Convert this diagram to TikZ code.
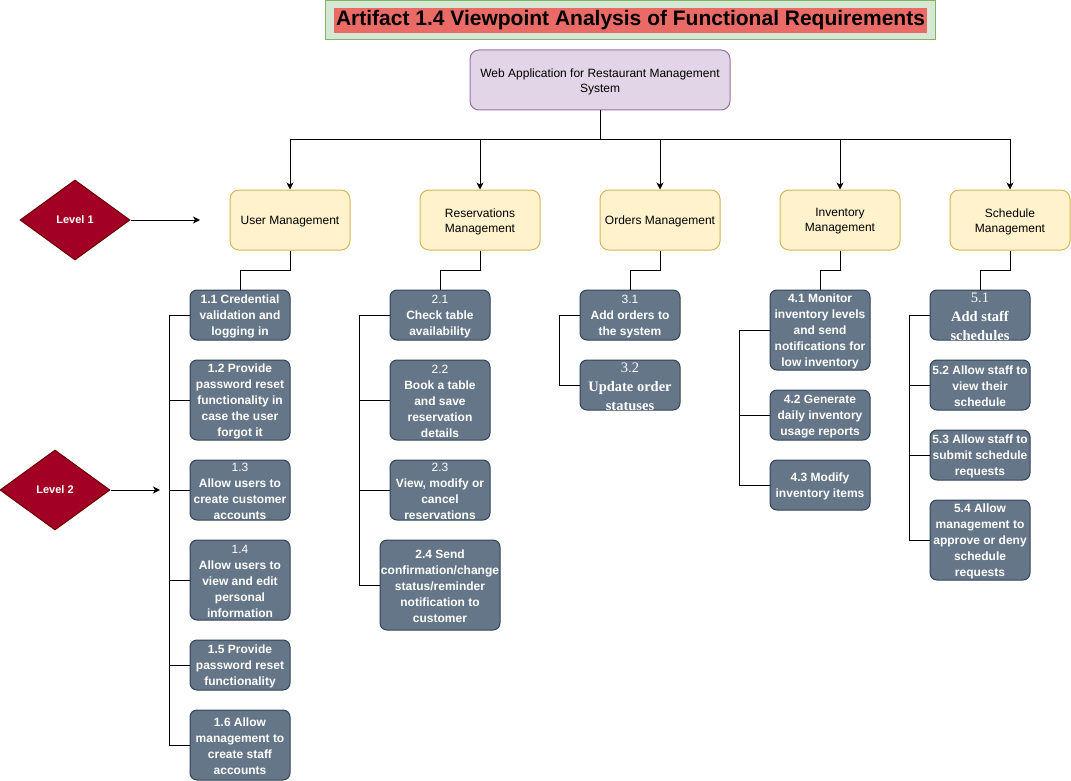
\documentclass[tikz,border=0pt]{standalone}
\usepackage{fontspec}
\setmainfont{Liberation Sans}
\newfontfamily\serifx{Liberation Serif}
\usetikzlibrary{arrows.meta,shapes.geometric}
\definecolor{slatefill}{HTML}{647687}
\definecolor{slateline}{HTML}{314354}
\definecolor{yelfill}{HTML}{FFF2CC}
\definecolor{yelline}{HTML}{D6B656}
\definecolor{purfill}{HTML}{E1D5E7}
\definecolor{purline}{HTML}{9673A6}
\definecolor{grnfill}{HTML}{D5E8D4}
\definecolor{grnline}{HTML}{82B366}
\definecolor{redhl}{HTML}{EA6B66}
\definecolor{dmdfill}{HTML}{A20025}
\definecolor{dmdline}{HTML}{6F0000}
\begin{document}
\begin{tikzpicture}[x=1pt,y=-1pt,
  conn/.style={line width=1pt, black},
  arr/.style={line width=1pt, black, -{Stealth[length=7pt,width=7pt,inset=2pt]}},
  slate/.style={draw=slateline, fill=slatefill, rounded corners=7pt, minimum width=100pt, inner sep=0pt, line width=1pt},
  slatetxt/.style={text=white, font=\fontsize{12}{16}\selectfont\bfseries, align=center, inner sep=0pt, yshift=-1.5pt},
  seriftxt/.style={text=white, font=\serifx\fontsize{14.5}{19}\selectfont, align=center, inner sep=0pt, yshift=-2pt},
  lvlone/.style={draw=yelline, fill=yelfill, rounded corners=9pt, minimum width=120pt, minimum height=60pt, line width=1pt},
  lvltxt/.style={align=center, font=\fontsize{12}{15}\selectfont, inner sep=0pt, yshift=-1.5pt},
  topbox/.style={draw=purline, fill=purfill, rounded corners=9pt, minimum width=260pt, minimum height=60pt, line width=1pt},
  dmd/.style={diamond, draw=dmdline, fill=dmdfill, text=white, minimum width=110pt, minimum height=80pt, inner sep=0pt, font=\bfseries\fontsize{11}{14}\selectfont, line width=1pt}
]
\useasboundingbox (0,0) rectangle (1071,781);

% title
\node[draw=grnline, fill=grnfill, line width=1pt, minimum width=610pt, minimum height=39pt, inner sep=0pt] (titlebox) at (630,20.5) {};
\node[fill=redhl, inner xsep=2pt, inner ysep=0pt, minimum height=25pt, font=\bfseries\fontsize{21}{24}\selectfont] (title) at (630.5,20.5) {Artifact 1.4 Viewpoint Analysis of Functional Requirements};

% top node
\node[topbox] (top) at (600,80) {};
\node[lvltxt] (ttop) at (top) {Web Application for Restaurant Management\\System};

% level 1 nodes
\node[lvlone] (um) at (290,220) {};
\node[lvltxt] (tum) at (um) {User Management};
\node[lvlone] (rm) at (480,220) {};
\node[lvltxt] (trm) at (rm) {Reservations\\Management};
\node[lvlone] (om) at (660,220) {};
\node[lvltxt] (tom) at (om) {Orders Management};
\node[lvlone] (im) at (840,220) {};
\node[lvltxt] (tim) at (im) {Inventory\\Management};
\node[lvlone] (sm) at (1010,220) {};
\node[lvltxt] (tsm) at (sm) {Schedule\\Management};

\coordinate (bus) at (600,140);
\draw[conn] (top.south) -- (bus);
\foreach \n in {um,rm,om,im,sm}{
  \draw[arr] (bus) -| (\n.north);
}

% level diamonds
\node[dmd] (lv1) at (75,220) {Level 1};
\node[dmd] (lv2) at (55,490) {Level 2};
\coordinate (lv1end) at (200,220);
\coordinate (lv2end) at (160,490);
\draw[arr] (lv1.east) -- (lv1end);
\draw[arr] (lv2.east) -- (lv2end);

% column 1
\node[slate, minimum height=50pt] (n11) at (240,315) {};
\node[slatetxt] (t11) at (n11) {1.1 Credential\\validation and\\logging in};
\node[slate, minimum height=80pt] (n12) at (240,400) {};
\node[slatetxt] (t12) at (n12) {1.2 Provide\\password reset\\functionality in\\case the user\\forgot it};
\node[slate, minimum height=60pt] (n13) at (240,490) {};
\node[slatetxt] (t13) at (n13) {{\mdseries 1.3}\\Allow users to\\create customer\\accounts};
\node[slate, minimum height=80pt] (n14) at (240,580) {};
\node[slatetxt] (t14) at (n14) {{\mdseries 1.4}\\Allow users to\\view and edit\\personal\\information};
\node[slate, minimum height=50pt] (n15) at (240,665) {};
\node[slatetxt] (t15) at (n15) {1.5 Provide\\password reset\\functionality};
\node[slate, minimum height=70pt] (n16) at (240,745) {};
\node[slatetxt] (t16) at (n16) {1.6 Allow\\management to\\create staff\\accounts};

\draw[conn] (um.south) -- ++(0,20) -| (n11.north);
\foreach \n in {n12,n13,n14,n15,n16}{
  \draw[conn] (n11.west) -- ++(-20,0) |- (\n.west);
}

% column 2
\node[slate, minimum height=50pt] (n21) at (440,315) {};
\node[slatetxt] (t21) at (n21) {{\mdseries 2.1}\\Check table\\availability};
\node[slate, minimum height=80pt] (n22) at (440,400) {};
\node[slatetxt] (t22) at (n22) {{\mdseries 2.2}\\Book a table\\and save\\reservation\\details};
\node[slate, minimum height=60pt] (n23) at (440,490) {};
\node[slatetxt] (t23) at (n23) {{\mdseries 2.3}\\View, modify or\\cancel\\reservations};
\node[slate, minimum width=120pt, minimum height=90pt] (n24) at (440,585) {};
\node[slatetxt] (t24) at (n24) {2.4 Send\\confirmation/change\\status/reminder\\notification to\\customer};

\draw[conn] (rm.south) -- ++(0,20) -| (n21.north);
\foreach \n in {n22,n23,n24}{
  \draw[conn] (n21.west) -- ++(-30,0) |- (\n.west);
}

% column 3
\node[slate, minimum height=50pt] (n31) at (630,315) {};
\node[slatetxt] (t31) at (n31) {{\mdseries 3.1}\\Add orders to\\the system};
\node[slate, minimum height=50pt] (n32) at (630,385) {};
\node[seriftxt] (t32) at (n32) {3.2\\\bfseries Update order\\\bfseries statuses};

\draw[conn] (om.south) -- ++(0,20) -| (n31.north);
\draw[conn] (n31.west) -- ++(-20,0) |- (n32.west);

% column 4
\node[slate, minimum height=80pt] (n41) at (820,330) {};
\node[slatetxt] (t41) at (n41) {4.1 Monitor\\inventory levels\\and send\\notifications for\\low inventory};
\node[slate, minimum height=50pt] (n42) at (820,415) {};
\node[slatetxt] (t42) at (n42) {4.2 Generate\\daily inventory\\usage reports};
\node[slate, minimum height=50pt] (n43) at (820,485) {};
\node[slatetxt] (t43) at (n43) {4.3 Modify\\inventory items};

\draw[conn] (im.south) -- ++(0,20) -| (n41.north);
\foreach \n in {n42,n43}{
  \draw[conn] (n41.west) -- ++(-30,0) |- (\n.west);
}

% column 5
\node[slate, minimum height=50pt] (n51) at (980,315) {};
\node[seriftxt] (t51) at (n51) {5.1\\\bfseries Add staff\\\bfseries schedules};
\node[slate, minimum height=50pt] (n52) at (980,385) {};
\node[slatetxt] (t52) at (n52) {5.2 Allow staff to\\view their\\schedule};
\node[slate, minimum height=50pt] (n53) at (980,455) {};
\node[slatetxt] (t53) at (n53) {5.3 Allow staff to\\submit schedule\\requests};
\node[slate, minimum height=80pt] (n54) at (980,540) {};
\node[slatetxt] (t54) at (n54) {5.4 Allow\\management to\\approve or deny\\schedule\\requests};

\draw[conn] (sm.south) -- ++(0,20) -| (n51.north);
\foreach \n in {n52,n53,n54}{
  \draw[conn] (n51.west) -- ++(-20,0) |- (\n.west);
}
\end{tikzpicture}
\end{document}
